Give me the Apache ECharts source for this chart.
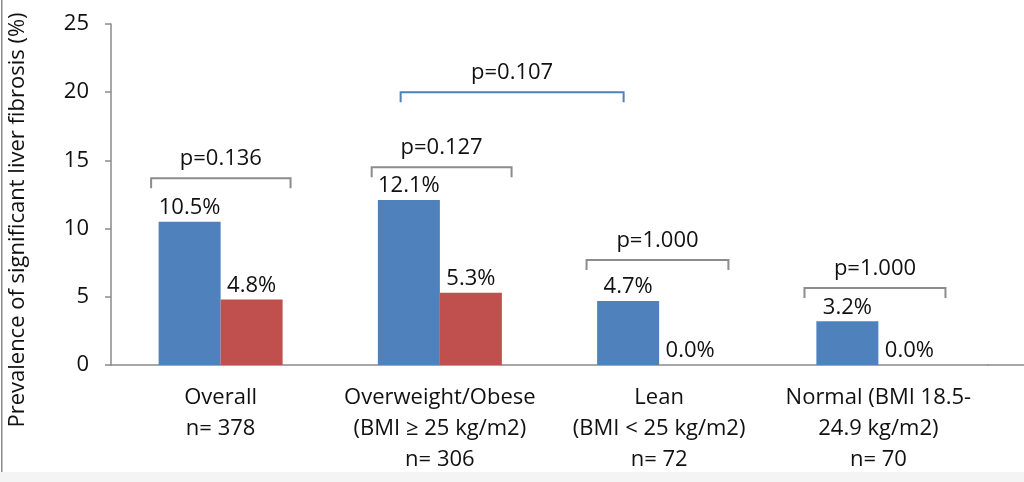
<!DOCTYPE html>
<html>
<head>
<meta charset="utf-8">
<script src="https://cdn.jsdelivr.net/npm/echarts@6/dist/echarts.min.js"></script>
<style>html,body{margin:0;padding:0;background:#fff;}#main{width:1024px;height:482px;}</style>
</head>
<body>
<div id="main"></div>
<script>
// ---- data ----
const categories = ['Overall\nn= 378', 'Overweight/Obese\n(BMI \u2265 25 kg/m2)\nn= 306', 'Lean\n(BMI < 25 kg/m2)\nn= 72', 'Normal (BMI 18.5-\n24.9 kg/m2)\nn= 70'];
const seriesA = [10.5, 12.1, 4.7, 3.2];
const seriesB = [4.8, 5.3, 0.0, 0.0];
const yTicks = [0, 5, 10, 15, 20, 25];
const yTitle = 'Prevalence of significant liver fibrosis (%)';
// brackets: start/end in category units, level in y units
const bracketLabels = ['p=0.136', 'p=0.127', 'p=0.107', 'p=1.000', 'p=1.000'];
const bracketFrom = [-0.317, 0.689, 0.821, 1.669, 2.663];
const bracketTo = [0.319, 1.327, 1.838, 2.316, 3.306];
const bracketLevel = [13.7, 14.5, 20.0, 7.7, 5.65];
const bracketKind = ['gray', 'gray', 'blue', 'gray', 'gray'];

const FONT = 'Open Sans';
const FS = 22;
const TXT = '#111111';
const bracketColors = { gray: '#8c8c8c', blue: '#4f81bd' };

const chart = echarts.init(document.getElementById('main'));

function xPix(api, x, y) {
  const base = Math.floor(x);
  const c = api.coord([base, y]);
  const band = api.size([1, 0])[0];
  return [c[0] + (x - base) * band, c[1]];
}

chart.setOption({
  backgroundColor: '#ffffff',
  animation: false,
  grid: [
    { left: 111, right: 36, top: 24, bottom: 117 },
    { left: 988, right: 0, top: 24, bottom: 117 }
  ],
  xAxis: [
    {
      type: 'category', gridIndex: 0, data: categories,
      axisLine: { lineStyle: { color: '#8a8a8a', width: 1.5 } },
      axisTick: { show: false },
      axisLabel: { fontFamily: FONT, fontSize: FS, color: TXT, lineHeight: 31, margin: 17, interval: 0 }
    },
    {
      type: 'value', gridIndex: 1, min: 0, max: 1,
      axisLine: { show: true, onZero: false, lineStyle: { color: '#8a8a8a', width: 1.5 } },
      axisTick: { show: false }, axisLabel: { show: false }, splitLine: { show: false }
    }
  ],
  yAxis: [
    {
      type: 'value', gridIndex: 0, min: yTicks[0], max: yTicks[yTicks.length - 1], interval: yTicks[1] - yTicks[0],
      axisLine: { show: true, lineStyle: { color: '#8a8a8a', width: 1.5 } },
      axisTick: { show: true, length: 6, lineStyle: { color: '#8a8a8a', width: 1.5 } },
      splitLine: { show: false },
      axisLabel: { fontFamily: FONT, fontSize: FS, color: TXT, margin: 22 }
    },
    { type: 'value', gridIndex: 1, show: false, min: 0, max: 1 }
  ],
  series: [
    {
      type: 'bar', data: seriesA, barWidth: 62, barGap: '0%',
      itemStyle: { color: '#4f81bd' },
      label: { show: true, position: 'top', distance: 3, fontFamily: FONT, fontSize: FS, color: TXT,
        formatter: p => p.value.toFixed(1) + '%' }
    },
    {
      type: 'bar', data: seriesB, barWidth: 62, barGap: '0%',
      itemStyle: { color: '#c0504d' },
      label: { show: true, position: 'top', distance: 3, fontFamily: FONT, fontSize: FS, color: TXT,
        formatter: p => p.value.toFixed(1) + '%' }
    },
    {
      type: 'custom',
      data: bracketLabels.map((l, i) => [bracketFrom[i], bracketTo[i], bracketLevel[i], i]),
      encode: { x: [0, 1], y: 2 },
      z: 5,
      renderItem: function (params, api) {
        const i = api.value(3);
        const p1 = xPix(api, api.value(0), api.value(2));
        const p2 = xPix(api, api.value(1), api.value(2));
        const col = bracketColors[bracketKind[i]];
        const leg = 10;
        return {
          type: 'group',
          children: [
            {
              type: 'polyline',
              shape: { points: [[p1[0], p1[1] + leg], [p1[0], p1[1]], [p2[0], p2[1]], [p2[0], p2[1] + leg]] },
              style: { stroke: col, lineWidth: 2, fill: null }
            },
            {
              type: 'text',
              x: (p1[0] + p2[0]) / 2, y: p1[1] - 19,
              style: { text: bracketLabels[i], fontFamily: FONT, fontSize: FS, fill: TXT, align: 'center', verticalAlign: 'middle' }
            }
          ]
        };
      }
    }
  ],
  graphic: [
    { type: 'rect', left: 0, top: 472, shape: { width: 1024, height: 10 }, style: { fill: '#f4f4f4' }, silent: true },
    { type: 'rect', left: 1, top: 0, shape: { width: 1.5, height: 472 }, style: { fill: '#8a8a8a' }, silent: true },
    {
      type: 'text', x: 18, y: 220, rotation: Math.PI / 2,
      style: { text: yTitle, fontFamily: FONT, fontSize: 22, fill: TXT, align: 'center', verticalAlign: 'middle' }
    }
  ]
});
</script>
</body>
</html>
